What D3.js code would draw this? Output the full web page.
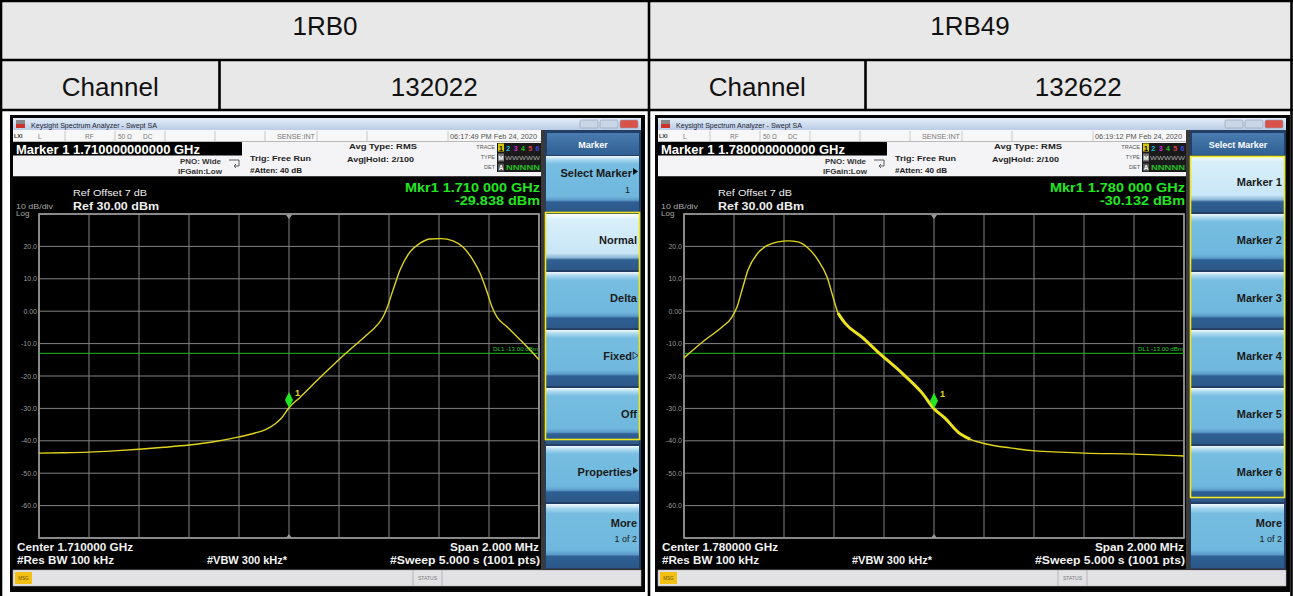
<!DOCTYPE html>
<html><head><meta charset="utf-8">
<script src="https://cdn.jsdelivr.net/npm/d3@7"></script>
<style>body{margin:0;background:#fff;} svg{display:block;font-family:"Liberation Sans",Arial,sans-serif;}</style>
</head><body><svg id="c" width="1293" height="596"></svg>
<script>
// ---------------- data ----------------
const rbHeaders = ["1RB0", "1RB49"];
const channelLabel = "Channel";
const channels = ["132022", "132622"];
const centerFreqGHz = [1.710, 1.780];
const markerFreqGHz = [1.710, 1.780];
const markerLevels = [-29.838, -30.132];
const timestamps = ["06:17:49 PM Feb 24, 2020", "06:19:12 PM Feb 24, 2020"];
const spanMHz = 2.0;
const refLevelDbm = 30;
const dbPerDiv = 10;
const displayLineDbm = -13;
const yTickValues = [20, 10, 0, -10, -20, -30, -40, -50, -60];
const yTickLabels = ["20.0", "10.0", "0.00", "-10.0", "-20.0", "-30.0", "-40.0", "-50.0", "-60.0"];
// trace: frequency offset from center (MHz) and level (dBm)
const trace1Offsets = [-1.000,-0.900,-0.800,-0.700,-0.600,-0.500,-0.400,-0.300,-0.200,-0.136,-0.096,-0.056,-0.028,0.000,0.044,0.124,0.224,0.304,0.356,0.376,0.392,0.416,0.444,0.484,0.524,0.564,0.608,0.656,0.696,0.736,0.764,0.792,0.812,0.832,0.872,0.924,0.968,1.000];
const trace1Levels  = [-43.8,-43.7,-43.5,-43.1,-42.6,-42.0,-41.3,-40.3,-38.8,-37.6,-36.6,-34.8,-32.8,-29.8,-26.6,-20.5,-13.2,-7.8,-4.0,-1.8,1.0,6.5,12.7,18.3,21.0,22.3,22.4,21.7,19.8,15.8,11.8,6.0,1.3,-1.8,-4.8,-8.8,-12.3,-15.0];
const trace2Offsets = [-1.000,-0.916,-0.848,-0.808,-0.788,-0.768,-0.744,-0.704,-0.664,-0.624,-0.584,-0.544,-0.504,-0.464,-0.428,-0.404,-0.384,-0.356,-0.288,-0.224,-0.128,-0.048,0.000,0.044,0.096,0.144,0.204,0.304,0.404,0.504,0.604,0.804,1.000];
const trace2Levels  = [-14.4,-8.9,-4.9,-1.8,1.3,6.5,12.7,18.0,20.4,21.4,21.7,21.4,19.5,15.8,10.6,4.4,-0.6,-3.7,-8.0,-12.6,-19.1,-25.2,-30.1,-33.0,-37.3,-39.5,-40.9,-42.2,-43.1,-43.5,-43.8,-44.1,-44.7];
const softkeyTitles = ["Marker", "Select Marker"];
const softkeyLabels1 = ["Select Marker", "Normal", "Delta", "Fixed", "Off", "Properties", "More"];
const softkeySubs1   = ["1", "", "", "", "", "", "1 of 2"];
const softkeyLabels2 = ["Marker 1", "Marker 2", "Marker 3", "Marker 4", "Marker 5", "Marker 6", "More"];
const softkeySubs2   = ["", "", "", "", "", "", "1 of 2"];
const traceNumbers = ["1", "2", "3", "4", "5", "6"];

// ---------------- drawing ----------------
const loc = d3.formatLocale({decimal: ".", thousands: ",", grouping: [3], currency: ["", ""], minus: "-"});
const fmt = s => loc.format(s);
const svg = d3.select("#c");
const defs = svg.append("defs");
function grad(id, stops) {
  const g = defs.append("linearGradient").attr("id", id).attr("x1", 0).attr("y1", 0).attr("x2", 0).attr("y2", 1);
  stops.forEach(s => g.append("stop").attr("offset", s[0]).attr("stop-color", s[1]));
}
grad("tb", [[0, "#e4edf7"], [1, "#b9cde5"]]);
grad("hdr", [[0, "#4a7cb0"], [1, "#2f5f93"]]);
grad("btn", [[0, "#f2f9fd"], [0.07, "#a6d6ee"], [0.15, "#76bde1"], [0.72, "#6fb7dd"], [0.79, "#5a9cc9"], [0.82, "#2f5f93"], [1, "#2b5888"]]);
grad("btnSel", [[0, "#ffffff"], [0.1, "#d9effa"], [0.7, "#c8e6f6"], [0.78, "#8cb6d6"], [0.82, "#2f5f93"], [1, "#2b5888"]]);

function txt(g, x, y, s, o) {
  o = o || {};
  const t = g.append("text").attr("x", x).attr("y", y).text(s)
    .attr("font-size", o.size || 10).attr("fill", o.fill || "#000")
    .attr("font-weight", o.bold ? "bold" : "normal")
    .attr("text-anchor", o.anchor || "start");
  if (o.len) t.attr("textLength", o.len).attr("lengthAdjust", "spacingAndGlyphs");
  return t;
}

// table
svg.append("rect").attr("x", 0).attr("y", 0).attr("width", 1293).attr("height", 110).attr("fill", "#e8e8e8");
const colX = [[1, 649], [649, 1291]];
const chanDiv = [219.5, 865.5];
rbHeaders.forEach((h, i) => {
  txt(svg, (colX[i][0] + colX[i][1]) / 2, 35, h, {size: 26, anchor: "middle", fill: "#111"});
  txt(svg, (colX[i][0] + chanDiv[i]) / 2, 96, channelLabel, {size: 26, anchor: "middle", fill: "#111"});
  txt(svg, (chanDiv[i] + colX[i][1]) / 2, 96, channels[i], {size: 26, anchor: "middle", fill: "#111"});
});
const tl = svg.append("g").attr("stroke", "#000").attr("stroke-width", 2.6);
[1, 60, 110].forEach(y => tl.append("line").attr("x1", 0).attr("x2", 1293).attr("y1", y).attr("y2", y));
[1, 649, 1291.5].forEach(x => tl.append("line").attr("x1", x).attr("x2", x).attr("y1", 0).attr("y2", 596));
chanDiv.forEach(x => tl.append("line").attr("x1", x).attr("x2", x).attr("y1", 60).attr("y2", 110));

function drawPanel(i, ox) {
  const g = svg.append("g").attr("transform", `translate(${ox},0)`);
  const offs = i === 0 ? trace1Offsets : trace2Offsets;
  const lvls = i === 0 ? trace1Levels : trace2Levels;
  const keys = i === 0 ? softkeyLabels1 : softkeyLabels2;
  const subs = i === 0 ? softkeySubs1 : softkeySubs2;
  const center = centerFreqGHz[i];

  // frame
  g.append("rect").attr("x", 10).attr("y", 115).attr("width", 635).attr("height", 477).attr("fill", "#050505");
  // title bar
  g.append("rect").attr("x", 13).attr("y", 118).attr("width", 628).attr("height", 12).attr("fill", "url(#tb)");
  g.append("rect").attr("x", 16).attr("y", 120).attr("width", 9).attr("height", 4).attr("fill", "#888");
  g.append("rect").attr("x", 16).attr("y", 124).attr("width", 9).attr("height", 4).attr("fill", "#d0302a");
  txt(g, 31, 127.5, "Keysight Spectrum Analyzer - Swept SA", {size: 6.5, fill: "#223", len: 126});
  [[580, "#c9d6e6"], [600, "#c9d6e6"], [620, "#d9534a"]].forEach(b => {
    g.append("rect").attr("x", b[0]).attr("y", 120).attr("width", 18).attr("height", 8).attr("rx", 1.5)
      .attr("fill", b[1]).attr("stroke", "#8a9bb0").attr("stroke-width", 0.6);
  });
  // status row
  g.append("rect").attr("x", 13).attr("y", 130).attr("width", 528).attr("height", 11.5).attr("fill", "#f7f7f7");
  [65, 115, 165, 215, 265, 317, 367, 448].forEach(x =>
    g.append("line").attr("x1", x).attr("x2", x).attr("y1", 131).attr("y2", 141).attr("stroke", "#c8c8c8"));
  txt(g, 14, 138, "LXI", {size: 5.5, bold: true, fill: "#333"});
  txt(g, 38, 138.5, "L", {size: 6.5, fill: "#777"});
  txt(g, 85, 138.5, "RF", {size: 6.5, fill: "#777"});
  txt(g, 118, 138.5, "50 Ω", {size: 6.5, fill: "#777"});
  txt(g, 143, 138.5, "DC", {size: 6.5, fill: "#777"});
  txt(g, 277, 138.5, "SENSE:INT", {size: 6.5, fill: "#777", len: 38});
  txt(g, 450, 139, timestamps[i], {size: 6.5, fill: "#555", len: 87});
  // info area
  g.append("rect").attr("x", 13).attr("y", 141.5).attr("width", 528).attr("height", 35).attr("fill", "#f4f4f6");
  g.append("rect").attr("x", 13).attr("y", 142).attr("width", 229).attr("height", 13.5).attr("fill", "#000");
  txt(g, 16, 153.5, "Marker 1 " + fmt(".12f")(markerFreqGHz[i]) + " GHz", {size: 12, bold: true, fill: "#fff", len: 184});
  txt(g, 221, 164, "PNO: Wide", {size: 7, bold: true, fill: "#333", anchor: "end", len: 41});
  txt(g, 222, 174, "IFGain:Low", {size: 7, bold: true, fill: "#333", anchor: "end", len: 44});
  g.append("path").attr("d", "M229,160 h10 v6 h-4 M236,164 l-2,2 2,2").attr("fill", "none").attr("stroke", "#333").attr("stroke-width", 0.8);
  txt(g, 250, 161, "Trig: Free Run", {size: 7.5, bold: true, fill: "#222", len: 61});
  txt(g, 250, 173, "#Atten: 40 dB", {size: 7.5, bold: true, fill: "#222", len: 52});
  txt(g, 349, 149, "Avg Type: RMS", {size: 7.5, bold: true, fill: "#222", len: 68});
  txt(g, 347, 161.5, "Avg|Hold: 2/100", {size: 7.5, bold: true, fill: "#222", len: 67});
  txt(g, 495, 149, "TRACE", {size: 5.5, fill: "#555", anchor: "end"});
  txt(g, 495, 159, "TYPE", {size: 5.5, fill: "#555", anchor: "end"});
  txt(g, 495, 169, "DET", {size: 5.5, fill: "#555", anchor: "end"});
  g.append("rect").attr("x", 497).attr("y", 143).attr("width", 44).attr("height", 29).attr("fill", "#1a1a1a");
  const tcols = ["#000", "#19c3d8", "#d02ad0", "#22c022", "#e0404a", "#3a4ae0"];
  g.append("rect").attr("x", 498).attr("y", 143.5).attr("width", 6).attr("height", 8).attr("fill", "#d8c800");
  traceNumbers.forEach((n, k) => txt(g, 501 + k * 7.3, 150.5, n, {size: 7, bold: true, fill: tcols[k], anchor: "middle"}));
  g.append("rect").attr("x", 498).attr("y", 153.5).attr("width", 6).attr("height", 8).attr("fill", "#777");
  txt(g, 501, 160, "M", {size: 6, bold: true, fill: "#fff", anchor: "middle"});
  txt(g, 505, 160, "WWWWW", {size: 5.5, fill: "#aaa", len: 35});
  g.append("rect").attr("x", 498).attr("y", 163.5).attr("width", 6).attr("height", 8).attr("fill", "#555");
  txt(g, 501, 170, "A", {size: 6.5, bold: true, fill: "#fff", anchor: "middle"});
  txt(g, 506, 170, "NNNNN", {size: 6.5, bold: true, fill: "#22c022", len: 34});

  // display area
  g.append("rect").attr("x", 13).attr("y", 176.5).attr("width", 528).attr("height", 392).attr("fill", "#000");
  txt(g, 73, 196, "Ref Offset 7 dB", {size: 8.5, fill: "#eee", len: 74});
  txt(g, 73, 210, "Ref 30.00 dBm", {size: 10.5, bold: true, fill: "#eee", len: 86});
  txt(g, 16, 209, "10 dB/div", {size: 8, fill: "#aaa", len: 37});
  txt(g, 16, 216, "Log", {size: 8, fill: "#aaa"});
  txt(g, 540, 191.5, "Mkr1 " + (s => s.slice(0, 5) + " " + s.slice(5))(fmt(".6f")(markerFreqGHz[i])) + " GHz",
      {size: 13.5, bold: true, fill: "#22e622", anchor: "end", len: 135});
  txt(g, 540, 205, fmt(".3f")(markerLevels[i]) + " dBm", {size: 13.5, bold: true, fill: "#22e622", anchor: "end", len: 85});

  const x = d3.scaleLinear().domain([-spanMHz / 2, spanMHz / 2]).range([39, 539]);
  const y = d3.scaleLinear().domain([refLevelDbm - 10 * dbPerDiv, refLevelDbm]).range([538, 214]);
  const grid = g.append("g").attr("stroke", "#828282").attr("stroke-width", 1);
  d3.range(11).map(k => -spanMHz / 2 + k * spanMHz / 10).forEach(v =>
    grid.append("line").attr("x1", x(v)).attr("x2", x(v)).attr("y1", 214).attr("y2", 538));
  d3.range(11).map(k => refLevelDbm - k * dbPerDiv).forEach(v =>
    grid.append("line").attr("x1", 39).attr("x2", 539).attr("y1", y(v)).attr("y2", y(v)));
  g.append("rect").attr("x", 39).attr("y", 214).attr("width", 500).attr("height", 324)
    .attr("fill", "none").attr("stroke", "#9c9c9c").attr("stroke-width", 1.6);
  yTickValues.forEach((v, k) => txt(g, 37, y(v) + 2.5, yTickLabels[k], {size: 7, fill: "#9a9a9a", anchor: "end"}));
  // center triangles
  const mx = x((markerFreqGHz[i] - center) * 1000);
  g.append("path").attr("d", `M${mx - 3},215 L${mx + 3},215 L${mx},219 Z`).attr("fill", "#999");
  g.append("path").attr("d", `M${mx - 3},538 L${mx + 3},538 L${mx},534 Z`).attr("fill", "#999");
  // display line
  g.append("line").attr("x1", 39).attr("x2", 539).attr("y1", y(displayLineDbm)).attr("y2", y(displayLineDbm))
    .attr("stroke", "#1dbb1d").attr("stroke-width", 1);
  txt(g, 538, y(displayLineDbm) - 2, "DL1 " + fmt(".2f")(displayLineDbm) + " dBm", {size: 6, fill: "#2fcf2f", anchor: "end", len: 45});
  // trace
  const pts = offs.map((o, k) => [o, lvls[k]]);
  const line = d3.line().x(d => x(d[0])).y(d => y(d[1])).curve(d3.curveMonotoneX);
  g.append("path").datum(pts).attr("d", line).attr("fill", "none").attr("stroke", "#e0d51c").attr("stroke-width", 1.4);
  if (i === 1) {
    g.append("path").datum(pts.filter(d => d[0] >= -0.39 && d[0] <= 0.15)).attr("d", line)
      .attr("fill", "none").attr("stroke", "#ece21e").attr("stroke-width", 3);
  }
  // marker
  const my = y(markerLevels[i]);
  g.append("path").attr("d", `M${mx},${my - 16} L${mx + 4},${my - 8} L${mx},${my} L${mx - 4},${my - 8} Z`).attr("fill", "#22e622");
  txt(g, mx + 6, my - 12, "1", {size: 9, bold: true, fill: "#e4d91c"});

  // bottom annotations
  txt(g, 17, 551, "Center " + fmt(".6f")(center) + " GHz", {size: 11, bold: true, fill: "#f2f2f2", len: 116});
  txt(g, 17, 564, "#Res BW 100 kHz", {size: 11, bold: true, fill: "#f2f2f2", len: 97});
  txt(g, 207, 564, "#VBW 300 kHz*", {size: 11, bold: true, fill: "#f2f2f2", len: 80});
  txt(g, 539, 551, "Span " + fmt(".3f")(spanMHz) + " MHz", {size: 11, bold: true, fill: "#f2f2f2", anchor: "end", len: 89});
  txt(g, 540, 564, "#Sweep  5.000 s (1001 pts)", {size: 11, bold: true, fill: "#f2f2f2", anchor: "end", len: 150});

  // softkeys
  g.append("rect").attr("x", 541).attr("y", 130).attr("width", 100).attr("height", 439).attr("fill", "#233f66");
  g.append("rect").attr("x", 541).attr("y", 130).attr("width", 4).attr("height", 439).attr("fill", "#3a3a3a");
  g.append("rect").attr("x", 547).attr("y", 133).attr("width", 92).attr("height", 22).attr("fill", "url(#hdr)");
  txt(g, 593, 148, softkeyTitles[i], {size: 9, bold: true, fill: "#fff", anchor: "middle"});
  const tops = [155, 213, 271, 329, 387, 445, 503];
  const sel = i === 0 ? 1 : 0;
  keys.forEach((k, j) => {
    const h = j === 6 ? 64 : 56;
    g.append("rect").attr("x", 546).attr("y", tops[j] + 1).attr("width", 93).attr("height", h)
      .attr("fill", j === sel ? "url(#btnSel)" : "url(#btn)");
    const isTwo = subs[j] !== "";
    const ty = isTwo ? (j === 6 ? tops[j] + 24 : tops[j] + 22) : tops[j] + 31;
    let tx = 637;
    if (k === "Select Marker" || k === "Properties" || k === "Fixed") tx = 632;
    txt(g, tx, ty, k, {size: 11, bold: true, fill: "#1a1a1a", anchor: "end"});
    if (isTwo) txt(g, j === 6 ? 637 : 630, j === 6 ? ty + 15 : ty + 16, subs[j], {size: 9, fill: "#1a1a1a", anchor: "end"});
    if (k === "Select Marker" || k === "Properties") {
      g.append("path").attr("d", `M633,${ty - 9} L638,${ty - 5.5} L633,${ty - 2} Z`).attr("fill", "#111");
    }
    if (k === "Fixed") {
      g.append("path").attr("d", `M633,${ty - 8} L638,${ty - 4.5} L633,${ty - 1} Z`).attr("fill", "none").attr("stroke", "#222").attr("stroke-width", 0.8);
    }
  });
  // highlight border
  if (i === 0) g.append("rect").attr("x", 545.5).attr("y", 212.5).attr("width", 94).attr("height", 227).attr("fill", "none").attr("stroke", "#f0e61a").attr("stroke-width", 1.6);
  else g.append("rect").attr("x", 545.5).attr("y", 156.5).attr("width", 94).attr("height", 341).attr("fill", "none").attr("stroke", "#f0e61a").attr("stroke-width", 1.6);

  // bottom message bar
  g.append("rect").attr("x", 13).attr("y", 570).attr("width", 628).attr("height", 16).attr("fill", "#e2e2e5").attr("stroke", "#aaa").attr("stroke-width", 0.6);
  g.append("rect").attr("x", 15).attr("y", 572).attr("width", 17).attr("height", 12).attr("fill", "#f2c014");
  txt(g, 23.5, 580, "MSG", {size: 4.5, fill: "#6a5000", anchor: "middle"});
  g.append("line").attr("x1", 413).attr("x2", 413).attr("y1", 570).attr("y2", 586).attr("stroke", "#b5b5b5");
  g.append("line").attr("x1", 442).attr("x2", 442).attr("y1", 570).attr("y2", 586).attr("stroke", "#b5b5b5");
  txt(g, 427.5, 580, "STATUS", {size: 5, fill: "#777", anchor: "middle"});
}
drawPanel(0, 0);
drawPanel(1, 645);
</script></body></html>
